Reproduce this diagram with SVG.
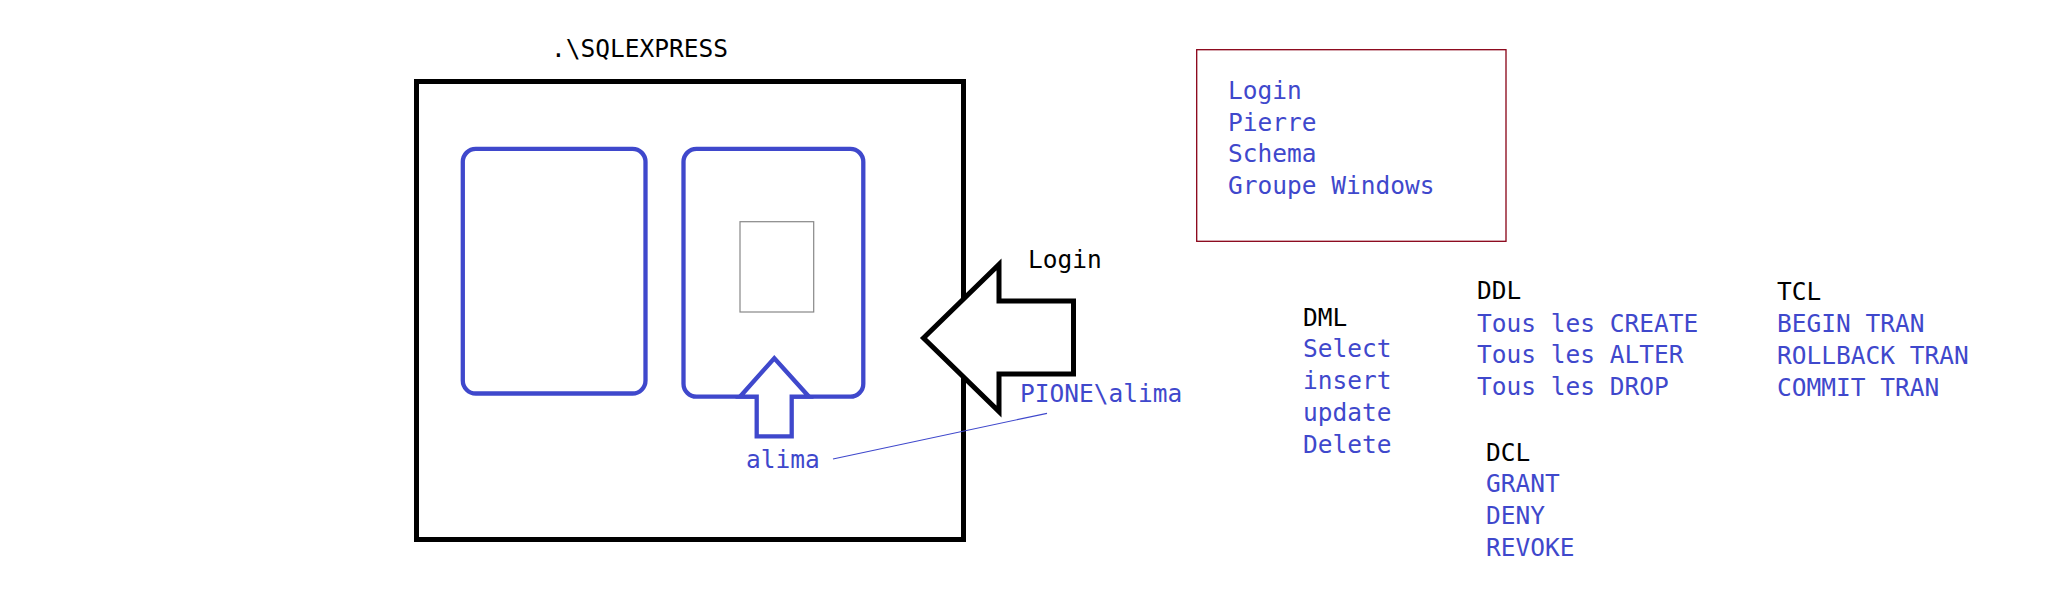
<svg xmlns="http://www.w3.org/2000/svg" width="2047" height="602" viewBox="0 0 2047 602">
<style>
text{font-family:"DejaVu Sans Mono","Liberation Mono",monospace;font-size:24.5px}
.k{fill:#000}
.b{fill:#3F48CC}
.db{fill:none;stroke:#3F48CC;stroke-width:4.3}
</style>
<rect width="2047" height="602" fill="#fff"/>
<g id="server">
<rect x="416.5" y="81.5" width="547" height="458" fill="none" stroke="#000" stroke-width="5"/>
<text class="k" x="551" y="57">.\SQLEXPRESS</text>
</g>
<g id="db1">
<rect class="db" x="462.8" y="148.8" width="182.7" height="244.7" rx="13"/>
</g>
<g id="db2">
<rect class="db" x="683.5" y="148.8" width="179.8" height="247.9" rx="13"/>
<rect x="740" y="221.7" width="73.7" height="90.3" fill="none" stroke="#888" stroke-width="1.2"/>
</g>
<g id="user-arrow">
<polygon points="774.3,358.3 809,396.7 791.7,396.7 791.7,436.3 756.7,436.3 756.7,396.7 740,396.7" fill="#fff" stroke="#3F48CC" stroke-width="4.3"/>
<text class="b" x="746" y="468">alima</text>
</g>
<g id="login-arrow">
<polygon points="923.5,338 999,264.5 999,301 1073.5,301 1073.5,374 999,374 999,411.5" fill="#fff" stroke="#000" stroke-width="5"/>
<text class="k" x="1028" y="268">Login</text>
<text class="b" x="1020" y="402">PIONE\alima</text>
</g>
<g id="connectors">
<line x1="833" y1="459" x2="1047" y2="413.3" stroke="#3F48CC" stroke-width="1.2"/>
</g>
<g id="legend">
<rect x="1196.7" y="49.7" width="309.3" height="191.6" fill="none" stroke="#880015" stroke-width="1.3"/>
<text class="b" x="1228" y="99.3">Login</text>
<text class="b" x="1228" y="130.7">Pierre</text>
<text class="b" x="1228" y="162.3">Schema</text>
<text class="b" x="1228" y="194.3">Groupe Windows</text>
</g>
<g id="dml">
<text class="k" x="1303" y="325.5">DML</text>
<text class="b" x="1303" y="357">Select</text>
<text class="b" x="1303" y="389">insert</text>
<text class="b" x="1303" y="421">update</text>
<text class="b" x="1303" y="453">Delete</text>
</g>
<g id="ddl">
<text class="k" x="1477" y="299">DDL</text>
<text class="b" x="1477" y="331.5">Tous les CREATE</text>
<text class="b" x="1477" y="363">Tous les ALTER</text>
<text class="b" x="1477" y="395">Tous les DROP</text>
</g>
<g id="tcl">
<text class="k" x="1777" y="300">TCL</text>
<text class="b" x="1777" y="332">BEGIN TRAN</text>
<text class="b" x="1777" y="364">ROLLBACK TRAN</text>
<text class="b" x="1777" y="396">COMMIT TRAN</text>
</g>
<g id="dcl">
<text class="k" x="1486" y="460.5">DCL</text>
<text class="b" x="1486" y="492">GRANT</text>
<text class="b" x="1486" y="524">DENY</text>
<text class="b" x="1486" y="556">REVOKE</text>
</g>
</svg>
